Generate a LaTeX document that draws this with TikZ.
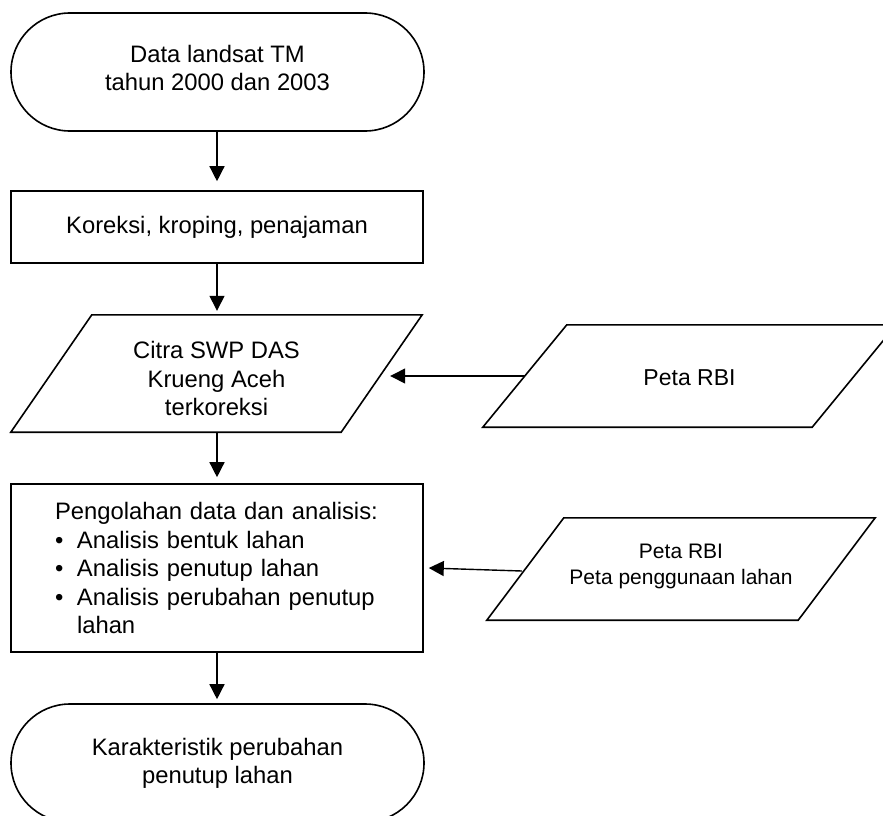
\documentclass[tikz,border=0pt]{standalone}
\usepackage{fontspec}
\setmainfont{Liberation Sans}
\usetikzlibrary{arrows.meta,shapes.misc}
\begin{document}
\begin{tikzpicture}[x=1pt,y=-1pt,
  shape line/.style={draw=black,line width=1.6pt},
  term/.style={shape line, rounded rectangle, minimum width=413pt, minimum height=118pt,
    inner sep=0pt, align=center, font=\fontsize{23.8}{28}\selectfont},
  procbox/.style={shape line, rectangle, minimum width=412pt, inner sep=0pt,
    font=\fontsize{23.8}{28.5}\selectfont},
  parabox/.style={rectangle, inner sep=0pt},
  label text/.style={inner sep=0pt, align=center},
  arr/.style={line width=1.4pt, -{Triangle[width=15pt,length=15pt]}}
]
\useasboundingbox (0,0) rectangle (883,816);
\clip (0,0) rectangle (883,816);

% start terminal
\node[term] (start) at (217.5,72) {};
\node[label text, font=\fontsize{23.8}{28}\selectfont] (startText) at ([yshift=4pt]start.center)
  {Data landsat TM\\tahun 2000 dan 2003};

% correction box
\node[procbox, minimum height=72pt, align=center] (kor) at (217,227) {Koreksi, kroping, penajaman};

% Citra parallelogram
\node[parabox, minimum width=411pt, minimum height=117pt] (citra) at (216.5,373.5) {};
\draw[shape line] (citra.south west) -- ([xshift=-81pt]citra.south east)
  -- (citra.north east) -- ([xshift=81pt]citra.north west) -- cycle;
\node[label text, font=\fontsize{23.8}{28.5}\selectfont] (citraText) at ([yshift=-5pt]citra.center)
  {Citra SWP DAS\\Krueng Aceh\\terkoreksi};

% Peta RBI parallelogram
\node[parabox, minimum width=413pt, minimum height=102pt] (rbi) at (689.5,376) {};
\draw[shape line] (rbi.south west) -- ([xshift=-84pt]rbi.south east)
  -- (rbi.north east) -- ([xshift=84pt]rbi.north west) -- cycle;
\node[label text, font=\fontsize{23}{28}\selectfont] (rbiText) at ([yshift=-2pt]rbi.center) {Peta RBI};

% processing box
\node[procbox, minimum height=168pt, text width=324pt, inner xsep=44pt, align=left]
  (proc) at (217,568)
  {Pengolahan data dan analisis:\\
   \makebox[22pt][l]{\textbullet}Analisis bentuk lahan\\
   \makebox[22pt][l]{\textbullet}Analisis penutup lahan\\
   \makebox[22pt][l]{\textbullet}Analisis perubahan penutup\\
   \hspace*{22pt}lahan};

% Peta RBI + penggunaan lahan parallelogram
\node[parabox, minimum width=388pt, minimum height=102pt] (rbi2) at (681,569) {};
\draw[shape line] (rbi2.south west) -- ([xshift=-77pt]rbi2.south east)
  -- (rbi2.north east) -- ([xshift=77pt]rbi2.north west) -- cycle;
\node[label text, font=\fontsize{21}{26}\selectfont] (rbi2Text) at ([yshift=3pt]rbi2.center)
  {Peta RBI\\Peta penggunaan lahan};

% end terminal
\node[term] (end) at (217.5,763) {Karakteristik perubahan\\penutup lahan};

% connector end points
\coordinate (citraIn) at ([xshift=-32pt,yshift=-2.5pt]citra.east);
\coordinate (rbiOut) at ([xshift=42pt]rbi.west);
\coordinate (rbi2Out) at ([xshift=35pt,yshift=-2pt]rbi2.west);
\coordinate (procIn) at ([xshift=5pt]proc.east);

% connectors
\draw[arr, shorten >=9pt] (kor.north |- start.south) -- (kor.north);
\draw[arr, shorten >=4pt] (kor.south) -- (kor.south |- citra.north);
\draw[arr, shorten >=6pt] (kor.south |- citra.south) -- (kor.south |- proc.north);
\draw[arr, shorten >=4pt] (proc.south) -- (proc.south |- end.north);
\draw[arr] (rbiOut) -- (citraIn);
\draw[arr] (rbi2Out) -- (procIn);
\end{tikzpicture}
\end{document}
